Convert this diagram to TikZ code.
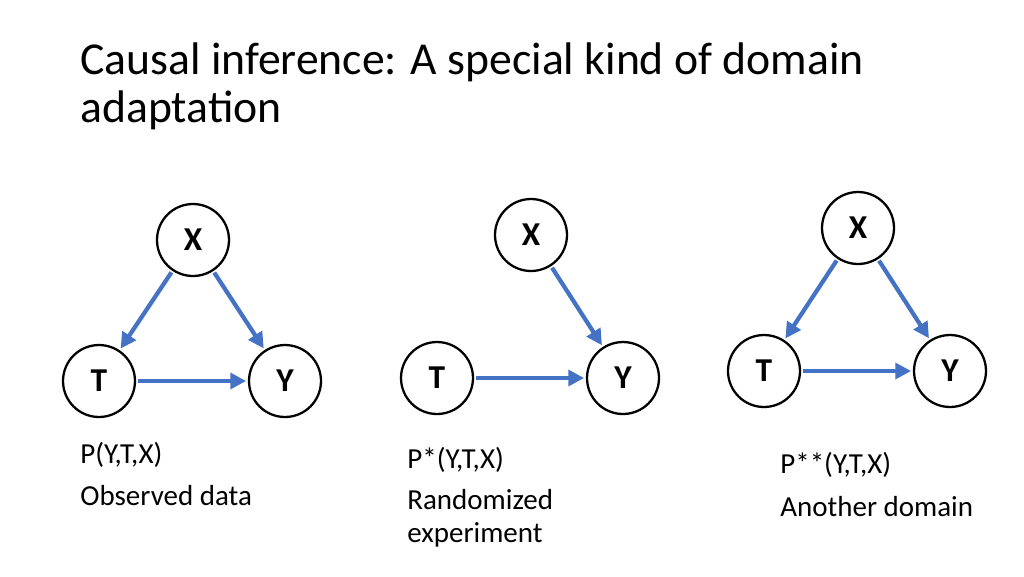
\documentclass[tikz,border=0pt]{standalone}
\usepackage{fontspec}
\setmainfont{Carlito}
\usetikzlibrary{arrows.meta}
\definecolor{EdgeBlue}{HTML}{4472C4}
\begin{document}
\begin{tikzpicture}[x=0.02cm, y=-0.02cm,
    var/.style={circle, draw, line width=1.3pt, minimum size=1.44cm, inner sep=0pt, font=\fontsize{19}{22}\selectfont\bfseries},
    edge/.style={-{Triangle[length=9pt, width=9pt]}, line width=2.4pt, draw=EdgeBlue, shorten <=1pt, shorten >=1pt},
    lbl/.style={anchor=west, font=\fontsize{16.5}{19}\selectfont, align=left, inner sep=0pt}
    ]
    \useasboundingbox (0,0) rectangle (1024,576);
    % Title
    \node (title) [anchor=west, align=left, inner sep=0pt, font=\fontsize{26}{27.5}\selectfont] at (80,86)
        {Causal inference: A special kind of domain\\adaptation};
    % Observed
    \node (x1) [var] at (193,240) {X};
    \node (t1) [var] at (99,381) {T};
    \node (y1) [var] at (285,381) {Y};
    \draw[edge] (x1) -- (t1);
    \draw[edge] (x1) -- (y1);
    \draw[edge] (t1) -- (y1);
    \node (p1) [lbl] at (80,455) {P(Y,T,X)};
    \node (d1) [lbl] at (80,496) {Observed data};
    % Randomized
    \node (x2) [var] at (531,235) {X};
    \node (t2) [var] at (437,378) {T};
    \node (y2) [var] at (623,378) {Y};
    \draw[edge] (x2) -- (y2);
    \draw[edge] (t2) -- (y2);
    \node (p2) [lbl] at (407,460) {P*(Y,T,X)};
    \node (d2) [lbl] at (407,518) {Randomized\\experiment};
    % Another domain
    \node (x3) [var] at (858,228) {X};
    \node (t3) [var] at (764,371) {T};
    \node (y3) [var] at (950,371) {Y};
    \draw[edge] (x3) -- (t3);
    \draw[edge] (x3) -- (y3);
    \draw[edge] (t3) -- (y3);
    \node (p3) [lbl] at (780,465) {P**(Y,T,X)};
    \node (d3) [lbl] at (780,507) {Another domain};
\end{tikzpicture}
\end{document}
